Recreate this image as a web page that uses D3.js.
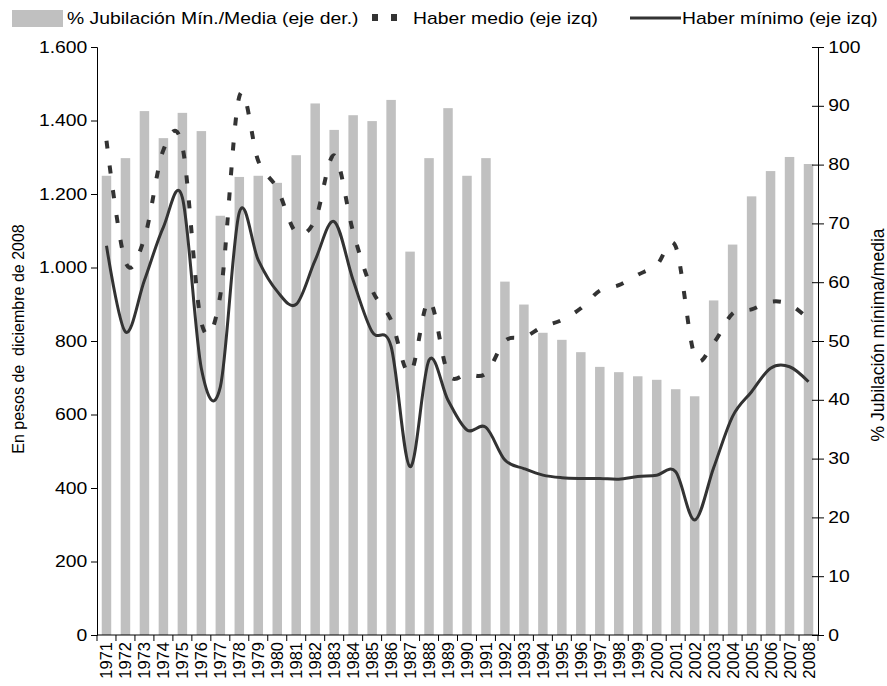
<!DOCTYPE html>
<html>
<head>
<meta charset="utf-8">
<script src="https://cdn.jsdelivr.net/npm/d3@7"></script>
<style>
  body { margin: 0; background: #fff; }
  text { font-family: "Liberation Sans", Arial, sans-serif; fill: #000; }
</style>
</head>
<body>
<div id="chart"></div>
<script>
// datos
const years = ["1971","1972","1973","1974","1975","1976","1977","1978","1979","1980",
  "1981","1982","1983","1984","1985","1986","1987","1988","1989","1990",
  "1991","1992","1993","1994","1995","1996","1997","1998","1999","2000",
  "2001","2002","2003","2004","2005","2006","2007","2008"];

// % jubilacion minima / media (eje der.)
const pctMinMedia = [78.1, 81.1, 89.1, 84.5, 88.8, 85.7, 71.3, 77.9, 78.1, 76.9,
  81.6, 90.4, 85.9, 88.4, 87.4, 91.0, 65.2, 81.1, 89.6, 78.1,
  81.1, 60.1, 56.2, 51.4, 50.2, 48.1, 45.6, 44.7, 44.0, 43.4,
  41.8, 40.6, 56.9, 66.4, 74.6, 78.9, 81.3, 80.1];

// haber medio (eje izq)
const haberMedio = [1345, 1015, 1080, 1320, 1330, 850, 925, 1465, 1290, 1215,
  1095, 1130, 1305, 1097, 939, 857, 712, 910, 712, 710,
  712, 800, 810, 839, 857, 889, 937, 952, 980, 1007,
  1057, 760, 795, 875, 886, 907, 900, 860];

// haber minimo (eje izq)
const haberMinimo = [1059, 825, 965, 1110, 1190, 725, 675, 1150, 1020, 935,
  900, 1020, 1125, 965, 825, 785, 458, 748, 639, 558,
  565, 476, 453, 435, 428, 426, 426, 424, 431, 435,
  444, 313, 455, 595, 662, 726, 730, 689];

const leftTicks = [0, 200, 400, 600, 800, 1000, 1200, 1400, 1600];
const rightTicks = [0, 10, 20, 30, 40, 50, 60, 70, 80, 90, 100];

const W = 887, H = 686;
const margin = { top: 47, right: 69, bottom: 51, left: 97 };
const width = W - margin.left - margin.right;
const height = H - margin.top - margin.bottom;
const sx = 1.21; // el original tiene el texto algo estirado en horizontal

const svg = d3.select("#chart")
  .append("svg")
  .attr("width", W)
  .attr("height", H);

const g = svg.append("g")
  .attr("transform", "translate(" + margin.left + "," + margin.top + ")");

// scales
const x = d3.scaleBand().domain(years).range([0, width])
  .paddingInner(0.5).paddingOuter(0.25);
const yLeft = d3.scaleLinear().domain([0, 1600]).range([height, 0]);
const yRight = d3.scaleLinear().domain([0, 100]).range([height, 0]);
const cx = (d) => x(d) + x.bandwidth() / 2;

// bars
g.selectAll(".bar")
  .data(years)
  .enter()
  .append("rect")
  .attr("class", "bar")
  .attr("x", (d) => x(d))
  .attr("width", x.bandwidth())
  .attr("y", (d, i) => yRight(pctMinMedia[i]))
  .attr("height", (d, i) => height - yRight(pctMinMedia[i]))
  .attr("fill", "#c0c0c0");

// lines (suavizadas como en excel)
const line = (vals) => d3.line()
  .curve(d3.curveCardinal.tension(0))
  .x((d, i) => cx(years[i]))
  .y((d) => yLeft(d))(vals);

g.append("path")
  .attr("d", line(haberMedio))
  .attr("fill", "none")
  .attr("stroke", "#333")
  .attr("stroke-width", 4)
  .attr("stroke-dasharray", "8,17");

g.append("path")
  .attr("d", line(haberMinimo))
  .attr("fill", "none")
  .attr("stroke", "#333")
  .attr("stroke-width", 3);

// left axis
const axL = g.append("g")
  .call(d3.axisLeft(yLeft).tickValues(leftTicks).tickSize(6)
    .tickFormat((d) => d3.format(",")(d).replace(/,/g, ".")));
axL.select(".domain").attr("stroke", "#000");
axL.selectAll("text")
  .attr("font-size", 16)
  .attr("x", -8)
  .attr("transform", "scale(" + sx + ",1)");

// right axis (ticks cruzan el eje)
const axR = g.append("g")
  .attr("transform", "translate(" + width + ",0)")
  .call(d3.axisRight(yRight).tickValues(rightTicks).tickSize(6));
axR.selectAll(".tick").append("line").attr("x1", -6).attr("x2", 0).attr("stroke", "#000");
axR.selectAll("text")
  .attr("font-size", 16)
  .attr("x", 8.5)
  .attr("transform", "scale(" + sx + ",1)");

// bottom axis: ticks en los limites de cada anio
const step = x.step();
const bounds = d3.range(years.length + 1);
g.append("line")
  .attr("x1", 0).attr("x2", width)
  .attr("y1", height).attr("y2", height)
  .attr("stroke", "#000");
g.selectAll(".xtick")
  .data(bounds)
  .enter()
  .append("line")
  .attr("x1", (d) => d * step).attr("x2", (d) => d * step)
  .attr("y1", height).attr("y2", height + 6)
  .attr("stroke", "#000");
g.selectAll(".xlabel")
  .data(years)
  .enter()
  .append("text")
  .attr("transform", (d) => "translate(" + (cx(d) + 6) + "," + (height + 7) + ") rotate(-90)")
  .attr("text-anchor", "end")
  .attr("font-size", 16.5)
  .text((d) => d);

// axis titles
svg.append("text")
  .attr("transform", "translate(24," + (margin.top + height / 2 - 2) + ") rotate(-90)")
  .attr("text-anchor", "middle")
  .attr("font-size", 16)
  .style("white-space", "pre")
  .text("En pesos de  diciembre de 2008");

svg.append("text")
  .attr("transform", "translate(884," + (margin.top + height / 2 - 6) + ") rotate(-90)")
  .attr("text-anchor", "middle")
  .attr("font-size", 17.5)
  .text("% Jubilación mínima/media");

// legend
const legendText = (xp, label) => svg.append("text")
  .attr("transform", "translate(" + xp + ",24) scale(" + sx + ",1)")
  .attr("font-size", 16)
  .text(label);

svg.append("rect").attr("x", 12).attr("y", 10).attr("width", 51).attr("height", 17).attr("fill", "#c0c0c0");
legendText(67, "% Jubilación Mín./Media (eje der.)");
svg.append("rect").attr("x", 372).attr("y", 14).attr("width", 6).attr("height", 7).attr("fill", "#333");
svg.append("rect").attr("x", 391).attr("y", 14).attr("width", 6).attr("height", 7).attr("fill", "#333");
legendText(413, "Haber medio (eje izq)");
svg.append("line").attr("x1", 630).attr("x2", 681).attr("y1", 18).attr("y2", 18)
  .attr("stroke", "#333").attr("stroke-width", 3);
legendText(682, "Haber mínimo (eje izq)");
</script>
</body>
</html>
